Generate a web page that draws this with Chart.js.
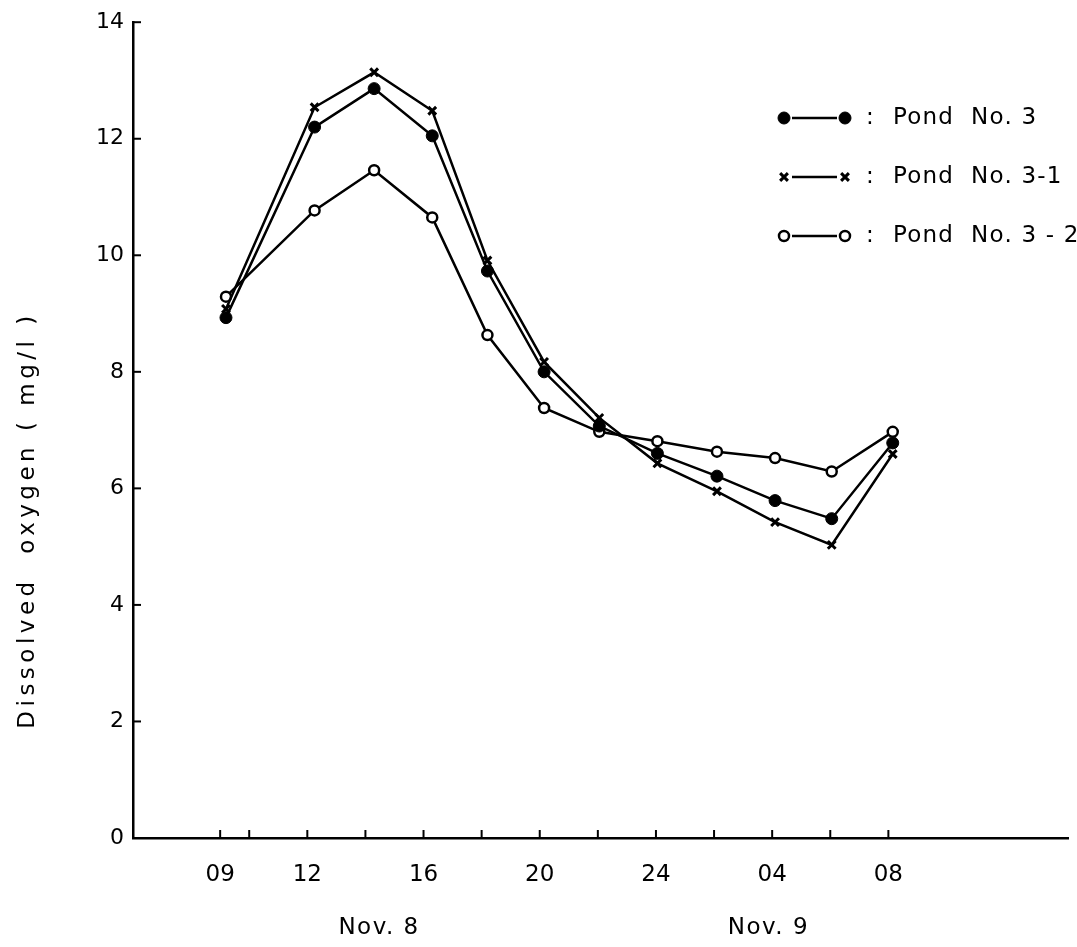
<!DOCTYPE html>
<html>
<head>
<meta charset="utf-8">
<title>Dissolved oxygen - Pond No. 3</title>
<script src="https://cdn.jsdelivr.net/npm/chart.js@4.4.1/dist/chart.umd.min.js"></script>
<style>
    html, body { margin: 0; padding: 0; background: #fff; }
    #chart { display: block; }
</style>
</head>
<body>
<canvas id="chart" width="1077" height="947"></canvas>
<script>
// Sampling times, hours counted from 00:00 Nov. 8 (24 = midnight, 32 = 08 Nov. 9)
const hours = [9.2, 12.25, 14.3, 16.3, 18.2, 20.15, 22.05, 24.05, 26.1, 28.1, 30.05, 32.15];

// Dissolved oxygen (mg/l)
const pond3  = [8.93, 12.20, 12.86, 12.05, 9.73, 8.00, 7.07, 6.60, 6.21, 5.79, 5.48, 6.78];
const pond31 = [9.08, 12.54, 13.14, 12.48, 9.91, 8.17, 7.21, 6.43, 5.95, 5.42, 5.03, 6.59];
const pond32 = [9.29, 10.77, 11.46, 10.65, 8.63, 7.38, 6.97, 6.81, 6.63, 6.52, 6.29, 6.97];

const seriesNames = ['Pond  No. 3', 'Pond  No. 3-1', 'Pond  No. 3 - 2'];

// x axis tick marks and the labelled ones
const tickHours = [9, 10, 12, 14, 16, 18, 20, 22, 24, 26, 28, 30, 32];
const labelHours = [9, 12, 16, 20, 24, 28, 32];
const labelTexts = ['09', '12', '16', '20', '24', '04', '08'];

// day labels under the axis
const dayLabels = ['Nov. 8', 'Nov. 9'];
const dayHours = [14.47, 27.87];

const yTitle = 'Dissolved  oxygen ( mg/l )';

const FONT = '"DejaVu Sans", sans-serif';

function toPoints(values) {
    return values.map((v, i) => ({ x: hours[i], y: v }));
}

// Small ticks pointing into the plot, like the original drawing
const innerTicks = {
    id: 'innerTicks',
    afterDraw(chart) {
        const ctx = chart.ctx;
        const xs = chart.scales.x;
        const ys = chart.scales.y;
        const area = chart.chartArea;
        ctx.save();
        ctx.strokeStyle = '#000';
        ctx.lineWidth = 2;
        ys.ticks.forEach(t => {
            const y = ys.getPixelForValue(t.value);
            ctx.beginPath();
            ctx.moveTo(area.left, y);
            ctx.lineTo(area.left + 8, y);
            ctx.stroke();
        });
        xs.ticks.forEach(t => {
            const x = xs.getPixelForValue(t.value);
            ctx.beginPath();
            ctx.moveTo(x, area.bottom);
            ctx.lineTo(x, area.bottom - 8);
            ctx.stroke();
        });
        ctx.restore();
    }
};

// Axis titles (rotated y title, two day labels)
const axisTexts = {
    id: 'axisTexts',
    afterDraw(chart) {
        const ctx = chart.ctx;
        const xs = chart.scales.x;
        ctx.save();
        ctx.fillStyle = '#000';
        ctx.textAlign = 'center';
        ctx.textBaseline = 'middle';

        ctx.font = '23px ' + FONT;
        ctx.letterSpacing = '4.5px';
        ctx.save();
        ctx.translate(28, 520);
        ctx.rotate(-Math.PI / 2);
        ctx.fillText(yTitle, 0, 0);
        ctx.restore();

        ctx.font = '23px ' + FONT;
        ctx.letterSpacing = '1.5px';
        dayLabels.forEach((txt, i) => {
            ctx.fillText(txt, xs.getPixelForValue(dayHours[i]), 928);
        });
        ctx.restore();
    }
};

// Legend in the style "marker —— marker : name"
const pondLegend = {
    id: 'pondLegend',
    afterDraw(chart) {
        const ctx = chart.ctx;
        const rows = [118, 177, 236];
        ctx.save();
        chart.data.datasets.forEach((ds, i) => {
            const y = rows[i];
            ctx.strokeStyle = '#000';
            ctx.lineWidth = 2.5;
            ctx.beginPath();
            ctx.moveTo(792, y);
            ctx.lineTo(837, y);
            ctx.stroke();
            const opts = {
                pointStyle: ds.pointStyle,
                radius: ds.pointRadius,
                borderWidth: ds.pointBorderWidth,
                rotation: 0
            };
            ctx.fillStyle = ds.pointBackgroundColor;
            ctx.strokeStyle = ds.pointBorderColor;
            ctx.lineWidth = ds.pointBorderWidth;
            Chart.helpers.drawPoint(ctx, opts, 784, y);
            Chart.helpers.drawPoint(ctx, opts, 845, y);

            ctx.fillStyle = '#000';
            ctx.font = '23px ' + FONT;
            ctx.textBaseline = 'middle';
            ctx.textAlign = 'left';
            ctx.letterSpacing = '0px';
            ctx.fillText(':', 866, y);
            ctx.letterSpacing = '1.2px';
            ctx.fillText(ds.label, 893, y);
        });
        ctx.restore();
    }
};

const ctx = document.getElementById('chart');

new Chart(ctx, {
    type: 'line',
    data: {
        datasets: [
            {
                label: seriesNames[0],
                data: toPoints(pond3),
                borderColor: '#000',
                borderWidth: 2.5,
                pointStyle: 'circle',
                pointRadius: 6,
                pointBorderWidth: 1,
                pointBackgroundColor: '#000',
                pointBorderColor: '#000'
            },
            {
                label: seriesNames[1],
                data: toPoints(pond31),
                borderColor: '#000',
                borderWidth: 2.5,
                pointStyle: 'crossRot',
                pointRadius: 5.5,
                pointBorderWidth: 3,
                pointBackgroundColor: '#000',
                pointBorderColor: '#000'
            },
            {
                label: seriesNames[2],
                data: toPoints(pond32),
                borderColor: '#000',
                borderWidth: 2.5,
                pointStyle: 'circle',
                pointRadius: 5,
                pointBorderWidth: 2.5,
                pointBackgroundColor: '#fff',
                pointBorderColor: '#000'
            }
        ]
    },
    options: {
        responsive: false,
        animation: false,
        devicePixelRatio: 1,
        layout: { padding: { top: 17, right: 2, left: 0, bottom: 0 } },
        plugins: {
            legend: { display: false },
            tooltip: { enabled: false }
        },
        elements: { line: { tension: 0 } },
        scales: {
            x: {
                type: 'linear',
                min: 6,
                max: 38.2,
                afterBuildTicks: scale => {
                    scale.ticks = tickHours.map(h => ({ value: h }));
                },
                afterFit: scale => { scale.height = 947 - 838; },
                grid: { display: false, drawTicks: false },
                border: { display: true, color: '#000', width: 2.5 },
                ticks: {
                    autoSkip: false,
                    maxRotation: 0,
                    padding: 23,
                    color: '#000',
                    font: { family: FONT, size: 23 },
                    callback: value => {
                        const i = labelHours.indexOf(value);
                        return i >= 0 ? labelTexts[i] : '';
                    }
                }
            },
            y: {
                min: 0,
                max: 14,
                afterFit: scale => { scale.width = 133; },
                grid: { display: false, drawTicks: false },
                border: { display: true, color: '#000', width: 2.5 },
                ticks: {
                    stepSize: 2,
                    padding: 9,
                    color: '#000',
                    font: { family: FONT, size: 22 }
                }
            }
        }
    },
    plugins: [innerTicks, axisTexts, pondLegend]
});
</script>
</body>
</html>
